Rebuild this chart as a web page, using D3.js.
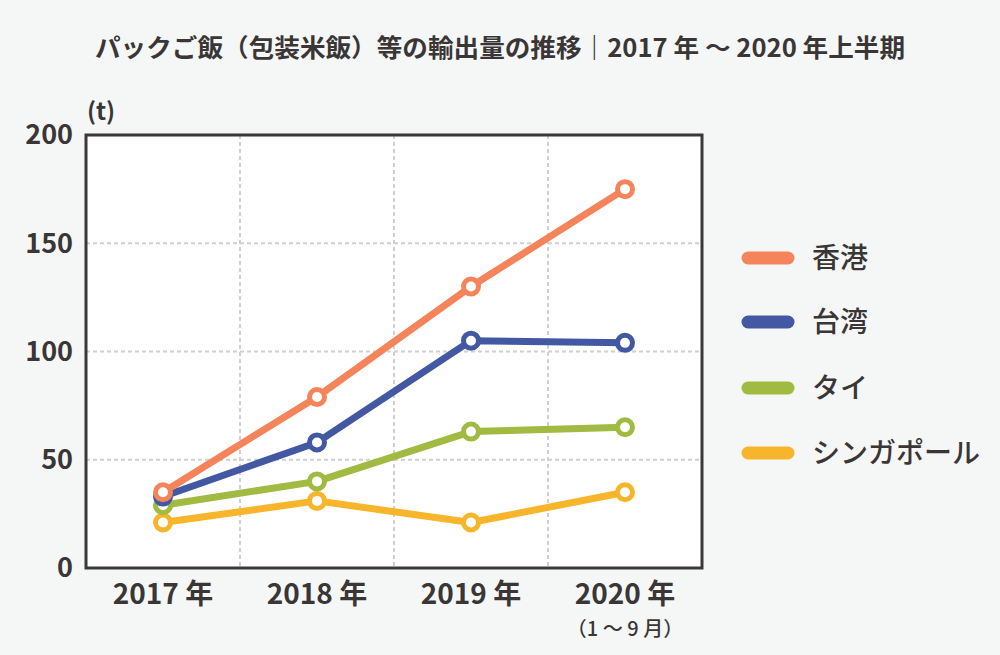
<!DOCTYPE html>
<html><head><meta charset="utf-8">
<script src="https://cdn.jsdelivr.net/npm/d3@7"></script>
<style>
body{margin:0;background:#f5f7f6;}
svg{display:block;}
text{font-family:"Noto Sans CJK JP","Noto Sans",sans-serif;fill:#3a3636;}
</style></head><body>
<svg id="chart" width="1000" height="655"></svg>
<script>
const title = "パックご飯（包装米飯）等の輸出量の推移｜2017 年 ～ 2020 年上半期";
const categories = ["2017 年", "2018 年", "2019 年", "2020 年"];
const categoryNotes = ["", "", "", "（1 ～ 9 月）"];
const seriesNames = ["香港", "台湾", "タイ", "シンガポール"];
const seriesColors = ["#f5845a", "#4358a3", "#a0ba42", "#f7b52c"];
const hongKong = [35, 79, 130, 175];
const taiwan = [33, 58, 105, 104];
const thailand = [29, 40, 63, 65];
const singapore = [21, 31, 21, 35];
const yTicks = [0, 50, 100, 150, 200];
const unitLabel = "(t)";

const seriesValues = [hongKong, taiwan, thailand, singapore];
const svg = d3.select("#chart");
const L = 86, R = 702, T = 135, B = 568;

svg.append("text").attr("x", 500).attr("y", 57).attr("text-anchor", "middle")
  .attr("font-size", 25).attr("font-weight", 700).attr("textLength", 810)
  .attr("lengthAdjust", "spacingAndGlyphs").text(title);

svg.append("rect").attr("x", L).attr("y", T).attr("width", R - L).attr("height", B - T).attr("fill", "#fff");

const x = d3.scaleBand().domain(categories).range([L, R]);
const y = d3.scaleLinear().domain([0, 200]).range([B, T]);

// grid
const g = svg.append("g");
g.selectAll(".hg").data(yTicks.filter(d => d > 0 && d < 200)).join("line")
  .attr("x1", L).attr("x2", R).attr("y1", d => y(d)).attr("y2", d => y(d))
  .attr("stroke", "#d0d0d0").attr("stroke-width", 2).attr("stroke-dasharray", "4,3");
g.selectAll(".vg").data(categories.slice(1)).join("line")
  .attr("x1", d => x(d)).attr("x2", d => x(d)).attr("y1", T).attr("y2", B)
  .attr("stroke", "#d0d0d0").attr("stroke-width", 2).attr("stroke-dasharray", "4,3");

// frame
svg.append("rect").attr("x", L).attr("y", T).attr("width", R - L).attr("height", B - T)
  .attr("fill", "none").attr("stroke", "#3a3838").attr("stroke-width", 3);

// y axis labels
const yAxis = d3.axisLeft(y).tickValues(yTicks).tickSize(0).tickPadding(13);
const ya = svg.append("g").attr("transform", `translate(${L},0)`).call(yAxis);
ya.select(".domain").remove();
ya.selectAll("text").attr("font-size", 27).attr("font-weight", 700)
  .attr("font-family", "'Noto Sans CJK JP',sans-serif").attr("fill", "#3a3636").attr("dy", "0.33em");

svg.append("text").attr("x", 101).attr("y", 120).attr("text-anchor", "middle")
  .attr("font-size", 24).attr("font-weight", 700).text(unitLabel);

// x axis labels
const xAxis = d3.axisBottom(x).tickSize(0).tickPadding(16);
const xa = svg.append("g").attr("transform", `translate(0,${B})`).call(xAxis);
xa.select(".domain").remove();
xa.selectAll("text").attr("font-size", 28).attr("font-weight", 700)
  .attr("font-family", "'Noto Sans CJK JP',sans-serif").attr("fill", "#3a3636");

svg.selectAll(".note").data(categories).join("text")
  .attr("x", d => x(d) + x.bandwidth() / 2).attr("y", 636).attr("text-anchor", "middle")
  .attr("font-size", 20).attr("font-weight", 500)
  .text((d, i) => categoryNotes[i]);

// lines
const line = d3.line().x((d, i) => x(categories[i]) + x.bandwidth() / 2).y(d => y(d));
const order = [3, 2, 1, 0];
order.forEach(si => {
  const sg = svg.append("g");
  sg.append("path").datum(seriesValues[si]).attr("d", line).attr("fill", "none")
    .attr("stroke", seriesColors[si]).attr("stroke-width", 7).attr("stroke-linejoin", "round");
  sg.selectAll("circle").data(seriesValues[si]).join("circle")
    .attr("cx", (d, i) => x(categories[i]) + x.bandwidth() / 2).attr("cy", d => y(d))
    .attr("r", 7.5).attr("fill", "#fff").attr("stroke", seriesColors[si]).attr("stroke-width", 5);
});

// legend
const legY = [258, 322, 388, 453];
const lg = svg.selectAll(".leg").data(seriesNames).join("g")
  .attr("transform", (d, i) => `translate(0,${legY[i]})`);
lg.append("line").attr("x1", 748).attr("x2", 788).attr("y1", 0).attr("y2", 0)
  .attr("stroke", (d, i) => seriesColors[i]).attr("stroke-width", 13).attr("stroke-linecap", "round");
lg.append("text").attr("x", 812).attr("y", 0).attr("dy", "0.35em")
  .attr("font-size", 28).attr("font-weight", 500).text(d => d);
</script>
</body></html>
